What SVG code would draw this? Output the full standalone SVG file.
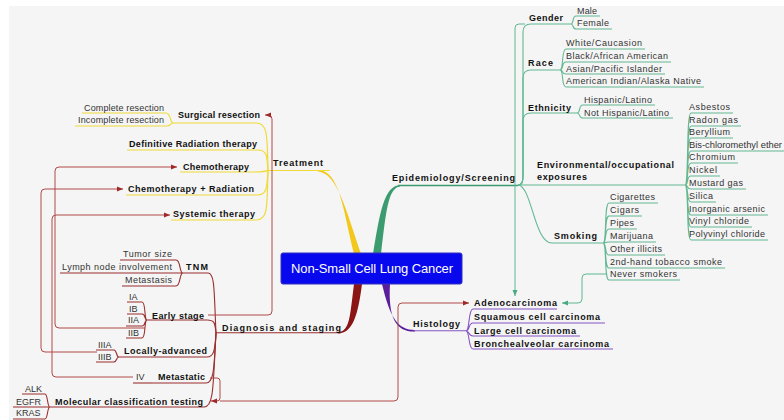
<svg xmlns="http://www.w3.org/2000/svg" width="784" height="420" viewBox="0 0 784 420">
<defs>
<style>
.t{font-family:"Liberation Sans",Arial,sans-serif;font-size:9px;font-weight:bold;fill:#111}
.l{font-family:"Liberation Sans",Arial,sans-serif;font-size:9px;fill:#333}
.c{font-family:"Liberation Sans",Arial,sans-serif;font-size:13px;fill:#fff}
.y{fill:none;stroke:#f0da3a;stroke-width:1.2}
.g{fill:none;stroke:#62b893;stroke-width:1.1}
.r{fill:none;stroke:#9a2e2e;stroke-width:1.1}
.p{fill:none;stroke:#8654c4;stroke-width:1.1}
.rr{fill:none;stroke:#b04848;stroke-width:1}
.rg{fill:none;stroke:#5fb892;stroke-width:1}
</style>
<marker id="ar" viewBox="0 0 6 6" refX="6" refY="3" markerWidth="6" markerHeight="6" orient="auto" markerUnits="userSpaceOnUse"><path d="M0,0.5 L6,3 L0,5.5 z" fill="#a02828"/></marker>
<marker id="ag" viewBox="0 0 6 6" refX="6" refY="3" markerWidth="6" markerHeight="6" orient="auto" markerUnits="userSpaceOnUse"><path d="M0,0.5 L6,3 L0,5.5 z" fill="#4aaa80"/></marker>
</defs>
<rect x="0" y="0" width="784" height="420" fill="#fff"/>
<rect x="9" y="6" width="775" height="414" fill="#f5f5f5"/>

<g id="connectors">
<!-- Treatment -->
<path d="M354,254 C343,210 340,171 318,170 L318,171.6 C337,173 346,210 361,254 Z" fill="#f2c81a"/>
<path class="y" d="M330,170.5 H268"/>
<path class="y" d="M268,170 C267,135 268,123 256,123 H173"/>
<path class="y" d="M268,170 C267,156 267,150 258,150 H127"/>
<path class="y" d="M268,170 C266,172 262,172 254,172 H180"/>
<path class="y" d="M268,170 C267,188 267,195 257,195 H126"/>
<path class="y" d="M268,170 C267,208 268,220 256,220 H171"/>
<path class="y" d="M173,123 C170,123 171,113 166,113 H82"/>
<path class="y" d="M173,123 C170,123 171,126 167,126 H75"/>
<!-- Epidemiology -->
<path d="M373,254 C380,212 384,186 400,185 L400,186.6 C388,188 386,212 381,254 Z" fill="#3c9c70"/>
<path d="M398,185.5 H518" fill="none" stroke="#3c9c70" stroke-width="1.3"/>
<path class="g" d="M518,185 C523,185 523,180 523,172 V32 Q523,24 531,24 H571"/>
<path class="g" d="M518,185 C523,185 523,180 523,172 V78 Q523,70 531,70 H560"/>
<path class="g" d="M518,185 C523,185 523,180 523,172 V121 Q523,113 531,113 H577"/>
<path class="g" d="M518,185 H685"/>
<path class="g" d="M518,185 C532,186 534,243 552,243 H603"/>
<path class="g" d="M571,24 C574,24 572,16 576,16 H600 M571,24 C574,24 572,29 576,29 H612"/>
<path class="g" d="M560,70 C564,70 561,49 566,49 H645 M560,70 C564,70 561,62 566,62 H671 M560,70 C564,70 561,74 566,74 H665 M560,70 C564,70 561,87 566,87 H704"/>
<path class="g" d="M577,113 C581,113 578,105 583,105 H655 M577,113 C581,113 578,118 583,118 H673"/>
<path class="g" d="M685,185 C689,185 686,113 691,113 H733 M685,185 C689,185 686,126 691,126 H741 M685,185 C689,185 686,138 691,138 H733 M685,185 C689,185 686,151 691,151 H784 M685,185 C689,185 686,163 691,163 H738 M685,185 C689,185 686,176 691,176 H720 M685,185 C689,185 686,189 691,189 H746 M685,185 C689,185 686,202 691,202 H716 M685,185 C689,185 686,215 691,215 H768 M685,185 C689,185 686,227 691,227 H752 M685,185 C689,185 686,240 691,240 H768"/>
<path class="g" d="M603,243 C607,243 604,203 609,203 H658 M603,243 C607,243 604,216 609,216 H642 M603,243 C607,243 604,229 609,229 H637 M603,243 C607,243 604,242 609,242 H656 M603,243 C607,243 604,255 609,255 H665 M603,243 C607,243 604,268 609,268 H725 M603,243 C607,243 604,280 609,280 H680"/>
<!-- Histology -->
<path d="M382,284 C390,318 398,330 415,330 L415,331.6 C396,332 388,318 390,284 Z" fill="#5a1e9c"/>
<path class="p" d="M413,330.7 H466"/>
<path class="p" d="M466,331 C470,331 468,309 473,309 H557 M466,331 C470,331 468,323 473,323 H605 M466,331 C470,331 468,336 473,336 H580 M466,331 C470,331 468,349 473,349 H613"/>
<!-- Diagnosis -->
<path d="M354,284 C350,315 350,332 338,332 L338,333.6 C353,333 358,315 362,284 Z" fill="#8b1414"/>
<path class="r" d="M340,332.8 H216"/>
<path class="r" d="M216,333 C214,292 215,273 208,273 H183"/>
<path class="r" d="M216,333 C215,322 214,320 207,320 H147"/>
<path class="r" d="M216,333 C215,350 214,357 207,357 H119"/>
<path class="r" d="M216,333 C214,368 214,383 206,383 H152"/>
<path class="r" d="M216,333 C213,385 214,407 204,407 H50"/>
<path class="r" d="M183,273 C179,273 181,260 176,260 H120 M183,273 H60 M183,273 C179,273 181,286 176,286 H122"/>
<path class="r" d="M147,320 C144,320 146,302 142,302 H127 M147,320 C144,320 146,314 142,314 H127 M147,320 C144,320 146,326 142,326 H126 M147,320 C144,320 146,338 142,338 H126"/>
<path class="r" d="M119,357 C116,357 117,350 114,350 H96 M119,357 C116,357 117,362 114,362 H96"/>
<path class="r" d="M152,383 H133"/>
<path class="r" d="M50,407 C47,407 48,394 45,394 H22 M50,407 H13 M50,407 C47,407 48,419 45,419 H13"/>
<!-- relationships -->
<path class="rr" d="M208,315 H268 Q272,315 272,311 V119 Q272,115 268,115 H265" marker-end="url(#ar)"/>
<path class="rr" d="M145,328 H59 Q55,328 55,324 V171 Q55,167 59,167 H177" marker-end="url(#ar)"/>
<path class="rr" d="M97,352 H45 Q41,352 41,348 V193 Q41,189 45,189 H123" marker-end="url(#ar)"/>
<path class="rr" d="M133,377 H56 Q52,377 52,373 V219 Q52,215 56,215 H170" marker-end="url(#ar)"/>
<path class="rr" d="M210,378 H217 Q220,378 220,381 V398 Q220,401 217,401 H211" marker-end="url(#ar)"/>
<path class="rr" d="M220,401 H394 Q398,401 398,397 V307 Q398,303 402,303 H469" marker-end="url(#ar)"/>
<path class="rg" d="M525,24 H519 Q515,24 515,28 V296" marker-end="url(#ag)"/>
<path class="rg" d="M607,274 H586 Q582,274 582,278 V299 Q582,303 578,303 H562" marker-end="url(#ag)"/>
</g>

<g id="center">
<rect x="281" y="253" width="181" height="31" rx="2" fill="#0808ee" stroke="#3030c0" stroke-width="1"/>
<text class="c" x="291" y="273" textLength="162" lengthAdjust="spacing">Non-Small Cell Lung Cancer</text>
</g>

<g id="treatment"><text class="t" x="273" y="166" textLength="50" lengthAdjust="spacing">Treatment</text></g>
<g id="surgical-resection"><text class="t" x="178" y="118" textLength="82" lengthAdjust="spacing">Surgical resection</text></g>
<g id="complete-resection"><text class="l" x="84" y="111" textLength="80" lengthAdjust="spacing">Complete resection</text></g>
<g id="incomplete-resection"><text class="l" x="78" y="123" textLength="86" lengthAdjust="spacing">Incomplete resection</text></g>
<g id="definitive-radiation"><text class="t" x="129" y="147" textLength="128" lengthAdjust="spacing">Definitive Radiation therapy</text></g>
<g id="chemotherapy"><text class="t" x="183" y="170" textLength="66" lengthAdjust="spacing">Chemotherapy</text></g>
<g id="chemo-radiation"><text class="t" x="128" y="192" textLength="126" lengthAdjust="spacing">Chemotherapy + Radiation</text></g>
<g id="systemic-therapy"><text class="t" x="173" y="217" textLength="82" lengthAdjust="spacing">Systemic therapy</text></g>

<g id="diagnosis"><text class="t" x="222" y="331" textLength="119" lengthAdjust="spacing">Diagnosis and staging</text></g>
<g id="tnm"><text class="t" x="186" y="270" textLength="22" lengthAdjust="spacing">TNM</text></g>
<g id="tumor-size"><text class="l" x="123" y="257" textLength="49" lengthAdjust="spacing">Tumor size</text></g>
<g id="lymph-node"><text class="l" x="62" y="270" textLength="110" lengthAdjust="spacing">Lymph node involvement</text></g>
<g id="metastasis"><text class="l" x="125" y="283" textLength="47" lengthAdjust="spacing">Metastasis</text></g>
<g id="early-stage"><text class="t" x="152" y="319" textLength="52" lengthAdjust="spacing">Early stage</text></g>
<g id="ia"><text class="l" x="129" y="300">IA</text></g>
<g id="ib"><text class="l" x="129" y="312">IB</text></g>
<g id="iia"><text class="l" x="128" y="323">IIA</text></g>
<g id="iib"><text class="l" x="128" y="336">IIB</text></g>
<g id="locally-advanced"><text class="t" x="124" y="354" textLength="83" lengthAdjust="spacing">Locally-advanced</text></g>
<g id="iiia"><text class="l" x="98" y="348">IIIA</text></g>
<g id="iiib"><text class="l" x="98" y="360">IIIB</text></g>
<g id="metastatic"><text class="t" x="158" y="380" textLength="47" lengthAdjust="spacing">Metastatic</text></g>
<g id="iv"><text class="l" x="136" y="380">IV</text></g>
<g id="molecular"><text class="t" x="55" y="405" textLength="148" lengthAdjust="spacing">Molecular classification testing</text></g>
<g id="alk"><text class="l" x="25" y="392">ALK</text></g>
<g id="egfr"><text class="l" x="16" y="405">EGFR</text></g>
<g id="kras"><text class="l" x="16" y="416">KRAS</text></g>

<g id="histology"><text class="t" x="413" y="327" textLength="47" lengthAdjust="spacing">Histology</text></g>
<g id="adenocarcinoma"><text class="t" x="474" y="306" textLength="83" lengthAdjust="spacing">Adenocarcinoma</text></g>
<g id="squamous"><text class="t" x="474" y="320" textLength="126" lengthAdjust="spacing">Squamous cell carcinoma</text></g>
<g id="large-cell"><text class="t" x="474" y="334" textLength="102" lengthAdjust="spacing">Large cell carcinoma</text></g>
<g id="bronchealveolar"><text class="t" x="474" y="347" textLength="135" lengthAdjust="spacing">Bronchealveolar carcinoma</text></g>

<g id="epidemiology"><text class="t" x="392" y="181" textLength="123" lengthAdjust="spacing">Epidemiology/Screening</text></g>
<g id="gender"><text class="t" x="529" y="21" textLength="34" lengthAdjust="spacing">Gender</text></g>
<g id="male"><text class="l" x="577" y="14" textLength="20" lengthAdjust="spacing">Male</text></g>
<g id="female"><text class="l" x="577" y="26" textLength="32" lengthAdjust="spacing">Female</text></g>
<g id="race"><text class="t" x="528" y="66" textLength="25" lengthAdjust="spacing">Race</text></g>
<g id="white"><text class="l" x="566" y="46" textLength="76" lengthAdjust="spacing">White/Caucasion</text></g>
<g id="black"><text class="l" x="566" y="59" textLength="102" lengthAdjust="spacing">Black/African American</text></g>
<g id="asian"><text class="l" x="566" y="72" textLength="96" lengthAdjust="spacing">Asian/Pacific Islander</text></g>
<g id="american-indian"><text class="l" x="566" y="84" textLength="135" lengthAdjust="spacing">American Indian/Alaska Native</text></g>
<g id="ethnicity"><text class="t" x="528" y="111" textLength="43" lengthAdjust="spacing">Ethnicity</text></g>
<g id="hispanic"><text class="l" x="584" y="103" textLength="68" lengthAdjust="spacing">Hispanic/Latino</text></g>
<g id="not-hispanic"><text class="l" x="584" y="116" textLength="85" lengthAdjust="spacing">Not Hispanic/Latino</text></g>
<g id="environmental"><text class="t" x="537" y="168" textLength="137" lengthAdjust="spacing">Environmental/occupational</text><text class="t" x="537" y="180" textLength="50" lengthAdjust="spacing">exposures</text></g>
<g id="asbestos"><text class="l" x="689" y="110" textLength="41" lengthAdjust="spacing">Asbestos</text></g>
<g id="radon"><text class="l" x="689" y="123" textLength="49" lengthAdjust="spacing">Radon gas</text></g>
<g id="beryllium"><text class="l" x="689" y="135" textLength="41" lengthAdjust="spacing">Beryllium</text></g>
<g id="bis"><text class="l" x="689" y="148" textLength="93" lengthAdjust="spacingAndGlyphs">Bis-chloromethyl ether</text></g>
<g id="chromium"><text class="l" x="689" y="160" textLength="46" lengthAdjust="spacing">Chromium</text></g>
<g id="nickel"><text class="l" x="689" y="173" textLength="28" lengthAdjust="spacing">Nickel</text></g>
<g id="mustard"><text class="l" x="689" y="186" textLength="54" lengthAdjust="spacing">Mustard gas</text></g>
<g id="silica"><text class="l" x="689" y="199" textLength="24" lengthAdjust="spacing">Silica</text></g>
<g id="arsenic"><text class="l" x="689" y="212" textLength="76" lengthAdjust="spacing">Inorganic arsenic</text></g>
<g id="vinyl"><text class="l" x="689" y="224" textLength="60" lengthAdjust="spacing">Vinyl chloride</text></g>
<g id="polyvinyl"><text class="l" x="689" y="237" textLength="76" lengthAdjust="spacing">Polyvinyl chloride</text></g>
<g id="smoking"><text class="t" x="554" y="239" textLength="43" lengthAdjust="spacing">Smoking</text></g>
<g id="cigarettes"><text class="l" x="610" y="200" textLength="45" lengthAdjust="spacing">Cigarettes</text></g>
<g id="cigars"><text class="l" x="610" y="213" textLength="29" lengthAdjust="spacing">Cigars</text></g>
<g id="pipes"><text class="l" x="610" y="226" textLength="24" lengthAdjust="spacing">Pipes</text></g>
<g id="marijuana"><text class="l" x="610" y="239" textLength="43" lengthAdjust="spacing">Marijuana</text></g>
<g id="other-illicits"><text class="l" x="610" y="252" textLength="52" lengthAdjust="spacing">Other illicits</text></g>
<g id="second-hand"><text class="l" x="610" y="265" textLength="112" lengthAdjust="spacing">2nd-hand tobacco smoke</text></g>
<g id="never-smokers"><text class="l" x="610" y="277" textLength="67" lengthAdjust="spacing">Never smokers</text></g>
</svg>
